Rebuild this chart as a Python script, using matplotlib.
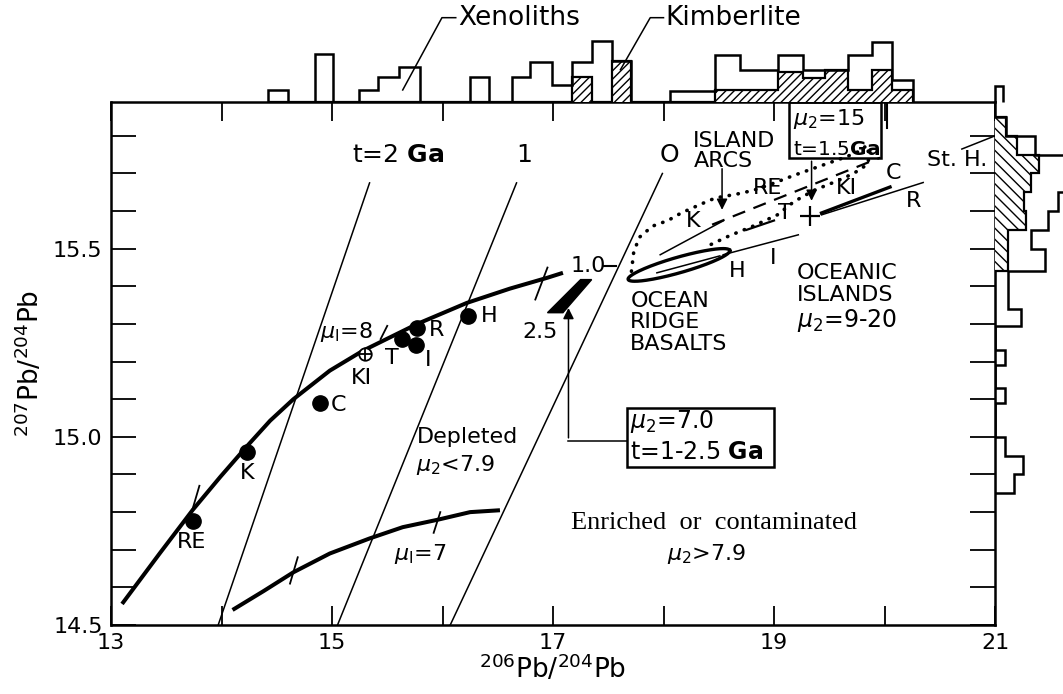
import numpy as np
import matplotlib
matplotlib.use("Agg")
import matplotlib.pyplot as plt
from matplotlib.patches import Polygon, Rectangle

plt.rcParams['font.family'] = ['DejaVu Sans']
plt.rcParams['mathtext.fontset'] = 'dejavusans'
plt.rcParams['hatch.linewidth'] = 1.0

# ---------------- data ----------------
# sample points on the 206Pb/204Pb - 207Pb/204Pb plane
sample_names = ['RE', 'K', 'C', 'KI', 'T', 'R', 'I', 'H']
sample_x = [13.74, 14.23, 14.89, 15.30, 15.63, 15.77, 15.76, 16.23]
sample_y = [14.777, 14.96, 15.09, 15.22, 15.26, 15.29, 15.245, 15.32]

# single-stage growth curves
mu8_x = [13.10, 13.44, 13.74, 13.99, 14.23, 14.44, 14.65, 14.98, 15.28, 15.77,
         16.22, 16.61, 16.95, 17.09]
mu8_y = [14.556, 14.69, 14.806, 14.894, 14.975, 15.043, 15.10, 15.176, 15.229, 15.30,
         15.356, 15.394, 15.423, 15.436]
mu7_x = [14.10, 14.38, 14.65, 14.98, 15.34, 15.64, 15.96, 16.25, 16.52]
mu7_y = [14.54, 14.59, 14.64, 14.69, 14.73, 14.76, 14.78, 14.80, 14.805]

# isochron lines (bottom end, top end)
iso_x0 = [13.97, 15.05, 16.07]
iso_y0 = [14.50, 14.50, 14.50]
iso_x1 = [15.34, 16.67, 17.99]
iso_y1 = [15.675, 15.675, 15.70]

# age ticks across the growth curves
tick_x0 = [13.80, 15.50, 16.95, 14.69, 15.98]
tick_y0 = [14.87, 15.295, 15.45, 14.68, 14.80]
tick_x1 = [13.73, 15.44, 16.84, 14.62, 15.92]
tick_y1 = [14.80, 15.26, 15.365, 14.61, 14.745]

# top histogram (206Pb/204Pb): bin edges, total counts, kimberlite counts
top_edges = [14.42, 14.60, 14.85, 15.01, 15.24, 15.42, 15.61, 15.80, 16.25, 16.42,
             16.63, 16.79, 16.99, 17.17, 17.35, 17.53, 17.71, 18.06, 18.47, 18.69,
             19.04, 19.26, 19.46, 19.67, 19.89, 20.07, 20.26]
top_total = [1.0, 0, 3.9, 0, 1.0, 2.0, 2.8, 0, 2.0, 0,
             2.0, 3.2, 1.4, 3.2, 4.9, 3.3, 0, 0.9, 3.8, 2.6,
             3.8, 2.6, 2.6, 3.8, 4.8, 1.8]
top_kimb = [0, 0, 0, 0, 0, 0, 0, 0, 0, 0,
            0, 0, 0, 2.0, 0, 3.3, 0, 0, 1.0, 1.0,
            2.4, 1.9, 2.6, 1.0, 2.6, 1.0]
corner_edges = [21.0, 21.07]
corner_total = [1.3]

# right histogram (207Pb/204Pb): bin edges, total counts, St. Helena counts
right_edges = [14.85, 14.90, 14.95, 15.00, 15.09, 15.13, 15.19, 15.23, 15.295,
               15.34, 15.44, 15.50, 15.55, 15.60, 15.65, 15.70, 15.75, 15.80, 15.85]
right_total = [1.7, 2.5, 0.9, 0, 0.9, 0, 0.9, 0, 2.4,
               1.2, 4.5, 3.3, 4.8, 5.7, 6.4, 7.0, 3.6, 1.0]
right_sth = [0, 0, 0, 0, 0, 0, 0, 0, 0,
             0, 1.2, 1.2, 2.8, 2.6, 3.3, 4.0, 2.0, 1.0]

# ocean island / island arc trend lines (x0, y0, x1, y1)
k_line = [17.97, 15.484, 18.54, 15.574]
re_line = [18.44, 15.564, 19.96, 15.742]
t_line = [18.75, 15.55, 19.00, 15.575]
ki_line = [19.43, 15.595, 20.05, 15.664]
r_line = [19.43, 15.590, 20.35, 15.676]
i_line = [18.54, 15.484, 19.22, 15.537]
orb_inner = [17.94, 15.436, 18.51, 15.481]

# island arc field outline
arc_x = [17.71, 17.73, 17.78, 17.90, 18.04, 18.16, 18.35, 18.47, 18.66, 18.81,
         18.96, 19.18, 19.42, 19.66, 19.78, 19.84, 19.86, 19.85, 19.72, 19.57,
         19.36, 19.18, 19.03, 18.81, 18.60, 18.42]
arc_y = [15.44, 15.49, 15.53, 15.56, 15.575, 15.595, 15.62, 15.635, 15.645, 15.655,
         15.67, 15.695, 15.72, 15.745, 15.76, 15.775, 15.75, 15.725, 15.70, 15.68,
         15.655, 15.625, 15.59, 15.56, 15.535, 15.51]

# ocean ridge basalt field: centre, half-axis vectors
orb_c = (18.14, 15.457)
orb_u = (0.46, 0.0385)
orb_v = (-0.019, 0.020)

# Pb evolution model field (parallelogram corners)
model_x = [16.95, 17.25, 17.35, 17.09]
model_y = [15.33, 15.418, 15.418, 15.33]
cross_pt = (19.33, 15.588)

# ---------------- figure ----------------
W, H = 1063, 694
fig = plt.figure(figsize=(W / 100, H / 100), dpi=100)
L, R, T, B = 111, 995, 102, 625
ax = fig.add_axes([L / W, 1 - B / H, (R - L) / W, (B - T) / H])
ax.set_xlim(13, 21)
ax.set_ylim(14.5, 15.89)
for s in ax.spines.values():
    s.set_linewidth(1.8)

ax.set_xticks(range(13, 22))
ax.set_xticklabels(['13', '', '15', '', '17', '', '19', '', '21'])
ax.set_yticks(np.round(np.arange(14.5, 15.85, 0.1), 1))
ax.set_yticklabels(['14.5', '', '', '', '', '15.0', '', '', '', '', '15.5', '', '', ''])
ax.tick_params(axis='x', direction='in', length=14, width=1.3, top=True,
               labelsize=16, pad=6)
ax.tick_params(axis='y', direction='in', length=18, width=1.3, right=True,
               labelsize=16, pad=6)
ax.set_xlabel(r'$^{206}$Pb/$^{204}$Pb', fontsize=19, labelpad=0)
ax.set_ylabel(r'$^{207}$Pb/$^{204}$Pb', fontsize=19, labelpad=6)

FS = 16
lw_thick = 2.9
lw_thin = 1.1
# isochrons
for x0, y0, x1, y1 in zip(iso_x0, iso_y0, iso_x1, iso_y1):
    ax.plot([x0, x1], [y0, y1], color='black', lw=lw_thin)
ax.text(15.60, 15.75, r't=2 $\bf{Ga}$', fontsize=18, ha='center', va='center')
ax.text(16.74, 15.75, '1', fontsize=18, ha='center', va='center')
ax.text(18.05, 15.75, 'O', fontsize=18, ha='center', va='center')

# growth curves
ax.plot(mu8_x, mu8_y, color='black', lw=lw_thick, solid_capstyle='butt',
        solid_joinstyle='round')
ax.plot(mu7_x, mu7_y, color='black', lw=lw_thick, solid_capstyle='butt',
        solid_joinstyle='round')
for x0, y0, x1, y1 in zip(tick_x0, tick_y0, tick_x1, tick_y1):
    ax.plot([x0, x1], [y0, y1], color='black', lw=1.3)
ax.text(15.13, 15.28, r'$\mu_{\rm I}$=8', fontsize=FS, ha='center', va='center')
ax.text(15.80, 14.69, r'$\mu_{\rm I}$=7', fontsize=FS, ha='center', va='center')

# samples
for name, x, y in zip(sample_names, sample_x, sample_y):
    if name == 'KI':
        ax.plot(x, y, 'o', ms=9, mfc='white', mec='black', mew=1.3)
        ax.plot(x, y, '+', ms=9, color='black', mew=1.3)
    else:
        ax.plot(x, y, 'o', ms=11, color='black')
lab_pos = {'RE': (13.73, 14.72), 'K': (14.23, 14.905), 'C': (15.06, 15.085),
           'KI': (15.27, 15.157), 'T': (15.54, 15.21), 'R': (15.95, 15.285),
           'I': (15.87, 15.205), 'H': (16.42, 15.32)}
for name in sample_names:
    ax.text(*lab_pos[name], name, fontsize=FS, ha='center', va='center')

# model field and its labels
ax.add_patch(Polygon(list(zip(model_x, model_y)), closed=True, color='black'))
ax.text(16.88, 15.28, '2.5', fontsize=FS, ha='center', va='center')
ax.text(17.16, 15.455, '1.0', fontsize=FS, ha='left', va='center')
ax.plot([17.46, 17.57], [15.455, 15.455], color='black', lw=1.5)
ax.annotate('', xy=(17.14, 15.35), xytext=(17.14, 14.99),
            arrowprops=dict(arrowstyle='-|>', color='black', lw=1.1,
                            mutation_scale=16))
ax.plot([17.14, 17.67], [14.99, 14.99], color='black', lw=1.1)
ax.add_patch(Rectangle((17.67, 14.92), 1.33, 0.157, fill=False, lw=1.8))
ax.text(17.70, 15.04, r'$\mu_2$=7.0', fontsize=17, ha='left', va='center')
ax.text(17.70, 14.96, r't=1-2.5 $\bf{Ga}$', fontsize=17, ha='left', va='center')

ax.text(16.23, 15.00, 'Depleted', fontsize=FS, ha='center', va='center')
ax.text(16.12, 14.925, r'$\mu_2$<7.9', fontsize=FS, ha='center', va='center')
ax.text(18.46, 14.77, 'Enriched  or  contaminated', fontsize=19, ha='center',
        va='center', family='Liberation Serif')
ax.text(18.39, 14.69, r'$\mu_2$>7.9', fontsize=FS, ha='center', va='center')

# ocean ridge basalts
t = np.linspace(0, 2 * np.pi, 200)
ex = orb_c[0] + orb_u[0] * np.cos(t) + orb_v[0] * np.sin(t)
ey = orb_c[1] + orb_u[1] * np.cos(t) + orb_v[1] * np.sin(t)
ax.plot(ex, ey, color='black', lw=2.4)
ax.plot(orb_inner[0::2], orb_inner[1::2], color='black', lw=lw_thin)
for i, word in enumerate(['OCEAN', 'RIDGE', 'BASALTS']):
    ax.text(17.70, 15.362 - 0.057 * i, word, fontsize=FS, ha='left', va='center')

# island arcs and ocean islands
ax.plot(arc_x, arc_y, color='black', lw=2.6, linestyle=(0, (0.1, 2.4)),
        dash_capstyle='round')
ax.plot(k_line[0::2], k_line[1::2], color='black', lw=lw_thin)
ax.plot(re_line[0::2], re_line[1::2], color='black', lw=1.6, linestyle=(0, (6, 4)))
ax.plot(t_line[0::2], t_line[1::2], color='black', lw=1.6)
ax.plot(ki_line[0::2], ki_line[1::2], color='black', lw=2.4)
ax.plot(r_line[0::2], r_line[1::2], color='black', lw=lw_thin)
ax.plot(i_line[0::2], i_line[1::2], color='black', lw=lw_thin)
ax.plot(*cross_pt, '+', ms=14, mew=1.6, color='black')
ax.annotate('', xy=(18.53, 15.596), xytext=(18.53, 15.72),
            arrowprops=dict(arrowstyle='-|>', color='black', lw=1.1, mutation_scale=16))
ax.text(18.27, 15.787, 'ISLAND', fontsize=FS, ha='left', va='center')
ax.text(18.27, 15.734, 'ARCS', fontsize=FS, ha='left', va='center')
arc_labels = {'K': (18.27, 15.574), 'RE': (18.94, 15.662), 'T': (19.10, 15.596),
              'KI': (19.66, 15.662), 'C': (20.08, 15.70), 'R': (20.26, 15.628),
              'I': (18.99, 15.476), 'H': (18.67, 15.44)}
for k, (x, y) in arc_labels.items():
    ax.text(x, y, k, fontsize=FS, ha='center', va='center')
ax.text(19.21, 15.436, 'OCEANIC', fontsize=FS, ha='left', va='center')
ax.text(19.21, 15.378, 'ISLANDS', fontsize=FS, ha='left', va='center')
ax.text(19.21, 15.31, r'$\mu_2$=9-20', fontsize=17, ha='left', va='center')

ax.add_patch(Rectangle((19.14, 15.74), 0.83, 0.15, fill=False, lw=1.8, clip_on=False))
ax.plot([20.02, 20.02], [15.82, 15.89], color='black', lw=1.5)
ax.text(19.17, 15.845, r'$\mu_2$=15', fontsize=16, ha='left', va='center')
ax.text(19.17, 15.765, r't=1.5$\bf{Ga}$', fontsize=14.5, ha='left', va='center')
ax.annotate('', xy=(19.34, 15.62), xytext=(19.34, 15.74),
            arrowprops=dict(arrowstyle='-|>', color='black', lw=1.1, mutation_scale=16))

ax.text(20.66, 15.737, 'St. H.', fontsize=FS, ha='center', va='center')
ax.plot([20.70, 21.0], [15.765, 15.80], color='black', lw=1.1)

# ---------------- top histogram ----------------
axT = fig.add_axes([L / W, 1 - T / H, (R - L) / W, T / H])
axT.set_xlim(13, 21)
axT.set_ylim(0, T / 12.4)
axT.axis('off')
axT.stairs(top_kimb, top_edges, fill=True, facecolor='white', edgecolor='black',
           hatch='////', lw=1.6)
axT.stairs(top_total, top_edges, baseline=0, color='black', lw=1.8)
sp = axT.stairs(corner_total, corner_edges, baseline=0, color='black', lw=1.8)
sp.set_clip_on(False)
axT.plot([15.64, 15.995, 16.12], [0.97, 6.8, 6.8], color='black', lw=1.1)
axT.text(16.14, 6.8, 'Xenoliths', fontsize=19, ha='left', va='center')
axT.plot([17.61, 17.88, 18.0], [2.6, 6.8, 6.8], color='black', lw=1.1)
axT.text(18.02, 6.8, 'Kimberlite', fontsize=19, ha='left', va='center')

# ---------------- right histogram ----------------
axR = fig.add_axes([R / W, 1 - B / H, (W - R) / W, (B - T) / H])
axR.set_ylim(14.5, 15.89)
axR.set_xlim(0, (W - R) / 11)
axR.axis('off')
axR.stairs(right_sth, right_edges, orientation='horizontal', fill=True,
           facecolor='white', edgecolor='black', hatch='\\\\\\', lw=1.6)
axR.stairs(right_total, right_edges, orientation='horizontal', baseline=0,
           color='black', lw=1.8)

fig.savefig('out.png', dpi=100)
